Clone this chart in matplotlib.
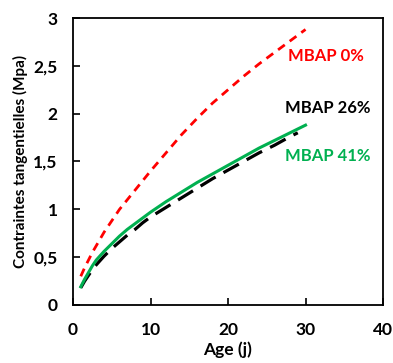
import matplotlib.pyplot as plt
from matplotlib.ticker import FuncFormatter

plt.rcParams['font.family'] = ['Lato', 'DejaVu Sans']
plt.rcParams['font.weight'] = 'bold'

# age (days) and tangential stress (MPa)
age_0 = [1, 1.5, 2, 2.5, 3, 4, 5, 6, 7, 8, 9, 10, 12, 14, 16, 18, 20, 22, 24, 26, 28, 30]
mbap_0 = [0.30, 0.39, 0.47, 0.55, 0.62, 0.76, 0.88, 1.00, 1.10, 1.20, 1.30, 1.40,
          1.59, 1.78, 1.95, 2.11, 2.25, 2.39, 2.52, 2.64, 2.76, 2.88]

age_26 = [1, 1.5, 2, 2.5, 3, 4, 5, 6, 7, 8, 9, 10, 12, 14, 16, 18, 20, 22, 24, 26, 28, 29]
mbap_26 = [0.18, 0.25, 0.31, 0.37, 0.42, 0.51, 0.59, 0.66, 0.73, 0.79, 0.86, 0.92,
           1.02, 1.12, 1.22, 1.32, 1.41, 1.50, 1.59, 1.67, 1.76, 1.80]

age_41 = [1, 1.5, 2, 2.5, 3, 4, 5, 6, 7, 8, 9, 10, 12, 14, 16, 18, 20, 22, 24, 26, 28, 30]
mbap_41 = [0.19, 0.27, 0.34, 0.41, 0.47, 0.56, 0.64, 0.72, 0.79, 0.85, 0.91, 0.97,
           1.08, 1.18, 1.28, 1.37, 1.46, 1.55, 1.64, 1.72, 1.80, 1.88]

fig = plt.figure(figsize=(3.93, 3.63), dpi=100)
ax = fig.add_axes([0.1858, 0.1598, 0.7888, 0.7906])

ax.plot(age_0, mbap_0, color='#ff0000', lw=2.0, dashes=(3, 2.2))
ax.plot(age_26, mbap_26, color='black', lw=2.3, dashes=(5.5, 2.8))
ax.plot(age_41, mbap_41, color='#00b050', lw=2.2)

ax.text(27.7, 2.60, 'MBAP 0%', color='#ff0000', fontsize=12, fontweight='bold', va='center')
ax.text(27.4, 2.06, 'MBAP 26%', color='black', fontsize=12, fontweight='bold', va='center')
ax.text(27.4, 1.56, 'MBAP 41%', color='#00b050', fontsize=12, fontweight='bold', va='center')

ax.set_xlim(0, 40)
ax.set_ylim(0, 3)
ax.set_xticks([0, 10, 20, 30, 40])
ax.set_yticks([0, 0.5, 1, 1.5, 2, 2.5, 3])
ax.yaxis.set_major_formatter(FuncFormatter(lambda v, p: ('%g' % v).replace('.', ',')))
ax.tick_params(direction='in', length=5, width=1.2, labelsize=12.5, pad=12)
ax.tick_params(axis='y', pad=11)
for s in ax.spines.values():
    s.set_linewidth(1.3)

ax.set_xlabel('Age (j)', fontsize=12.5, fontweight='bold', labelpad=3)
ax.set_ylabel('Contraintes tangentielles (Mpa)', fontsize=11, fontweight='bold', labelpad=4)

fig.savefig('out.png', dpi=100)
